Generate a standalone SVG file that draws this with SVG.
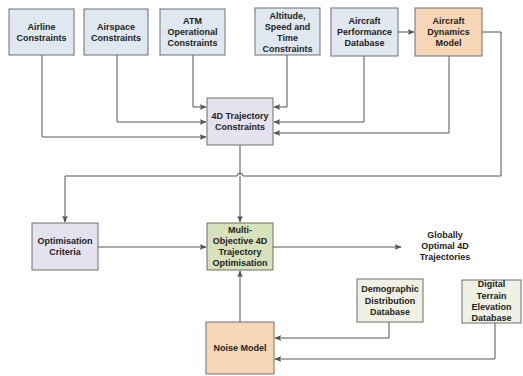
<svg xmlns="http://www.w3.org/2000/svg" width="523" height="376" viewBox="0 0 523 376">
<defs>
<style>
.b{stroke:#6e6e6e;stroke-width:1}
.blue{fill:#dfe8f1}
.peach{fill:#f8d6b8}
.lav{fill:#e4e2ef}
.green{fill:#d7e1bb}
.lg{fill:#eef1e4}
text{font-family:"Liberation Sans",Arial,sans-serif;font-weight:bold;font-size:9px;fill:#222;text-anchor:middle}
.c{fill:none;stroke:#555;stroke-width:1}
</style>
<marker id="a" viewBox="0 0 10 10" refX="9" refY="5" markerWidth="7" markerHeight="7" orient="auto" markerUnits="userSpaceOnUse">
<path d="M0,1 L10,5 L0,9 L2,5 Z" fill="#555"/>
</marker>
</defs>
<rect width="523" height="376" fill="#fff"/>
<g id="connectors">
<path class="c" d="M42,55 V137 H206" marker-end="url(#a)"/>
<path class="c" d="M117,55 V122 H206" marker-end="url(#a)"/>
<path class="c" d="M193,55 V107 H206" marker-end="url(#a)"/>
<path class="c" d="M287,55 V107 H274" marker-end="url(#a)"/>
<path class="c" d="M364,56 V122 H274" marker-end="url(#a)"/>
<path class="c" d="M449,56 V133 H274" marker-end="url(#a)"/>
<path class="c" d="M398,32 H414" marker-end="url(#a)"/>
<path class="c" d="M482,32 H501 V176 H243 A3,3 0 0 0 237,176 H65 V222" marker-end="url(#a)"/>
<path class="c" d="M240,145 V222" marker-end="url(#a)"/>
<path class="c" d="M98,247 H206" marker-end="url(#a)"/>
<path class="c" d="M273,247 H401" marker-end="url(#a)"/>
<path class="c" d="M240,322 V271" marker-end="url(#a)"/>
<path class="c" d="M389,322 V338 H275" marker-end="url(#a)"/>
<path class="c" d="M495,323 V359 H275" marker-end="url(#a)"/>
</g>
<g id="airline"><rect class="b blue" x="9" y="9" width="65" height="46"/><text x="41.5" y="30">Airline</text><text x="41.5" y="41">Constraints</text></g>
<g id="airspace"><rect class="b blue" x="84" y="9" width="64" height="46"/><text x="116" y="30">Airspace</text><text x="116" y="41">Constraints</text></g>
<g id="atm"><rect class="b blue" x="160" y="9" width="65" height="46"/><text x="192.5" y="24">ATM</text><text x="192.5" y="35">Operational</text><text x="192.5" y="46">Constraints</text></g>
<g id="altitude"><rect class="b blue" x="255" y="8" width="65" height="47"/><text x="287.5" y="19">Altitude,</text><text x="287.5" y="30">Speed and</text><text x="287.5" y="41">Time</text><text x="287.5" y="51.5">Constraints</text></g>
<g id="performance"><rect class="b blue" x="331" y="8" width="67" height="48"/><text x="364.5" y="24">Aircraft</text><text x="364.5" y="35">Performance</text><text x="364.5" y="46">Database</text></g>
<g id="dynamics"><rect class="b peach" x="415" y="8" width="67" height="48"/><text x="448.5" y="24">Aircraft</text><text x="448.5" y="35">Dynamics</text><text x="448.5" y="46">Model</text></g>
<g id="trajconstraints"><rect class="b lav" x="207" y="98" width="66" height="47"/><text x="240" y="119">4D Trajectory</text><text x="240" y="130">Constraints</text></g>
<g id="optcriteria"><rect class="b lav" x="32" y="223" width="66" height="47"/><text x="65" y="244">Optimisation</text><text x="65" y="255">Criteria</text></g>
<g id="multiobj"><rect class="b green" x="207" y="223" width="66" height="47"/><text x="240" y="233">Multi-</text><text x="240" y="244">Objective 4D</text><text x="240" y="255">Trajectory</text><text x="240" y="266">Optimisation</text></g>
<g id="globally"><text x="445" y="238">Globally</text><text x="445" y="249">Optimal 4D</text><text x="445" y="260">Trajectories</text></g>
<g id="noise"><rect class="b peach" x="206" y="322" width="68" height="52"/><text x="240" y="351">Noise Model</text></g>
<g id="demographic"><rect class="b lg" x="357" y="279" width="66" height="43"/><text x="390" y="292">Demographic</text><text x="390" y="304">Distribution</text><text x="390" y="315">Database</text></g>
<g id="terrain"><rect class="b lg" x="462" y="280" width="59" height="43"/><text x="491.5" y="287">Digital</text><text x="491.5" y="299">Terrain</text><text x="491.5" y="310">Elevation</text><text x="491.5" y="321">Database</text></g>
</svg>
